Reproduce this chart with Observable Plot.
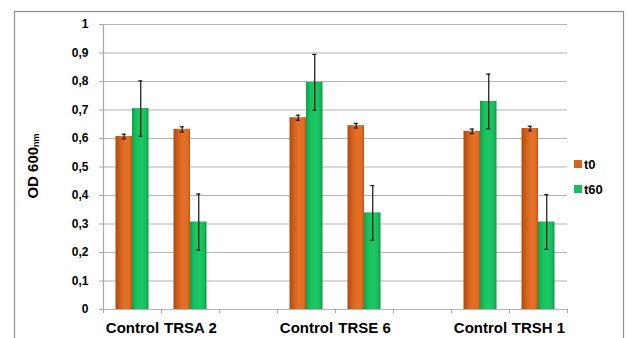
<!DOCTYPE html>
<html>
<head>
<meta charset="utf-8">
<script src="https://cdn.jsdelivr.net/npm/d3@7"></script>
<script src="https://cdn.jsdelivr.net/npm/@observablehq/plot@0.6"></script>
<style>
  html, body { margin: 0; padding: 0; background: #fff; }
  #chart { position: relative; width: 628px; height: 338px; overflow: hidden; }
  svg { font-family: "Liberation Sans", Arial, sans-serif; }
</style>
</head>
<body>
<div id="chart"></div>
<script>
// ---- data ----
const groups = ["Control", "TRSA 2", "", "Control", "TRSE 6", "", "Control", "TRSH 1"];
const series = ["t0", "t60"];
const t0 = [0.607, 0.632, null, 0.673, 0.645, null, 0.625, 0.635];
const t60 = [0.705, 0.307, null, 0.797, 0.339, null, 0.730, 0.307];
const t0Err = [0.008, 0.009, null, 0.009, 0.008, null, 0.008, 0.008];
const t60Err = [0.097, 0.098, null, 0.098, 0.096, null, 0.096, 0.096];
const yTicks = [0, 0.1, 0.2, 0.3, 0.4, 0.5, 0.6, 0.7, 0.8, 0.9, 1];

// ---- table built from arrays ----
const rows = [];
groups.forEach((g, i) => {
  if (t0[i] != null) rows.push({i, series: "t0", value: t0[i], err: t0Err[i]});
  if (t60[i] != null) rows.push({i, series: "t60", value: t60[i], err: t60Err[i]});
});
const pad = 0.2155;          // outer gap inside each category slot
const seriesIndex = s => series.indexOf(s);
const x1 = d => d.i + pad + seriesIndex(d.series) * (0.5 - pad);
const x2 = d => d.i + 0.5 + seriesIndex(d.series) * (0.5 - pad);
const xc = d => (x1(d) + x2(d)) / 2;
const capW = 0.035;
const boundaries = d3.range(groups.length + 1);
const centers = groups.map((g, i) => i + 0.5);
const fmt = d => (+d.toFixed(1)).toString().replace(".", ",");
const fillOf = {t0: "url(#gradT0)", t60: "url(#gradT60)"};

const plot = Plot.plot({
  width: 628,
  height: 338,
  marginLeft: 103,
  marginRight: 61,
  marginTop: 24,
  marginBottom: 29,
  x: {type: "linear", domain: [0, groups.length], axis: null},
  y: {domain: [0, 1], axis: null},
  style: {fontFamily: "Liberation Sans, Arial, sans-serif", background: "white"},
  marks: [
    Plot.gridY(yTicks, {stroke: "#b4b4b4", strokeOpacity: 1, strokeWidth: 1.2}),
    Plot.ruleX([0], {stroke: "#a8a8a8", strokeWidth: 1.2}),
    Plot.axisY(yTicks, {
      label: null,
      tickSize: 4, tickPadding: 11, stroke: "#a8a8a8",
      tickFormat: fmt, fontSize: 12, fontWeight: "bold", fill: "#000"
    }),
    Plot.axisX(boundaries, {
      label: null,
      tickSize: 4, stroke: "#a8a8a8", tickFormat: () => ""
    }),
    Plot.axisX(centers, {
      label: null,
      tickSize: 0, tickPadding: 13,
      tickFormat: d => groups[Math.floor(d)],
      fontSize: 15, fontWeight: "bold", fill: "#000"
    }),
    Plot.rectY(rows, {
      x1, x2, y: "value",
      fill: d => fillOf[d.series]
    }),
    Plot.ruleX(rows, {x: xc, y1: d => d.value - d.err, y2: d => d.value + d.err, stroke: "#111", strokeWidth: 1.2}),
    Plot.ruleY(rows, {y: d => d.value - d.err, x1: d => xc(d) - capW, x2: d => xc(d) + capW, stroke: "#111", strokeWidth: 1.2}),
    Plot.ruleY(rows, {y: d => d.value + d.err, x1: d => xc(d) - capW, x2: d => xc(d) + capW, stroke: "#111", strokeWidth: 1.2})
  ]
});

document.getElementById("chart").appendChild(plot);

// gradients for the bevelled bar look
const svg = d3.select(plot);
const defs = svg.insert("defs", ":first-child");
function grad(id, stops) {
  const g = defs.append("linearGradient").attr("id", id)
    .attr("x1", "0").attr("x2", "1").attr("y1", "0").attr("y2", "0");
  stops.forEach(([o, c]) => g.append("stop").attr("offset", o).attr("stop-color", c));
}
grad("gradT0", [[0, "#ad4a10"], [0.3, "#d3621c"], [0.55, "#e37026"], [0.85, "#df6d23"], [1, "#bd5511"]]);
grad("gradT60", [[0, "#0ea14a"], [0.25, "#17c15f"], [0.6, "#1dc967"], [0.85, "#15bc5b"], [1, "#0c9747"]]);

// outer frame
svg.append("rect")
  .attr("x", 14.5).attr("y", 11.5).attr("width", 609).attr("height", 340)
  .attr("fill", "none").attr("stroke", "#8f8f8f").attr("stroke-width", 1.2);

// y-axis title with subscript
const title = svg.append("text")
  .attr("transform", "translate(38,166) rotate(-90)")
  .attr("text-anchor", "middle")
  .attr("font-family", "Liberation Sans, Arial, sans-serif")
  .attr("font-weight", "bold")
  .attr("fill", "#000");
title.append("tspan").attr("font-size", 15).text("OD 600");
title.append("tspan").attr("font-size", 9).attr("dy", 1).text("nm");

// legend
const legColors = {t0: "#d2641e", t60: "#17c05f"};
series.forEach((s, k) => {
  const cy = 164 + k * 25;
  svg.append("rect").attr("x", 574).attr("y", cy - 4).attr("width", 8).attr("height", 8)
    .attr("fill", legColors[s]);
  svg.append("text").attr("x", 584).attr("y", cy).attr("dy", "0.36em")
    .attr("text-anchor", "start")
    .attr("font-family", "Liberation Sans, Arial, sans-serif")
    .attr("font-size", 13).attr("font-weight", "bold").attr("fill", "#000").text(s);
});
</script>
</body>
</html>
